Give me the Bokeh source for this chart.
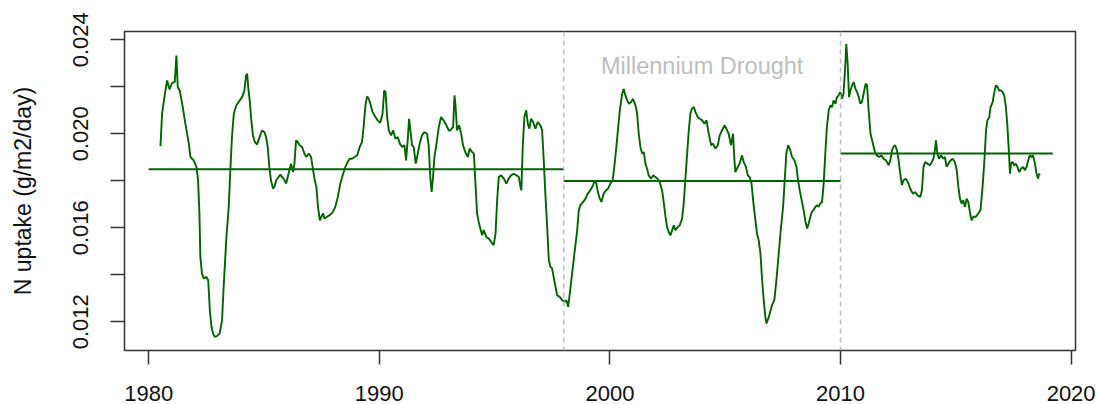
from bokeh.plotting import figure
from bokeh.models import Range1d, FixedTicker, PrintfTickFormatter, Span, Label
from bokeh.embed import file_html
from bokeh.resources import INLINE

# ---------------- data ----------------
YEAR = [
    1980.51, 1980.58, 1980.65, 1980.72, 1980.80, 1980.90, 1981.01, 1981.13, 1981.20, 1981.26,
    1981.35, 1981.45, 1981.59, 1981.74, 1981.81, 1981.95, 1982.07, 1982.14, 1982.20, 1982.24,
    1982.31, 1982.39, 1982.50, 1982.58, 1982.65, 1982.72, 1982.79, 1982.86, 1982.96, 1983.08,
    1983.18, 1983.25, 1983.37, 1983.47, 1983.54, 1983.61, 1983.69, 1983.80, 1983.95, 1984.05,
    1984.15, 1984.22, 1984.27, 1984.32, 1984.38, 1984.45, 1984.52, 1984.60, 1984.70, 1984.81,
    1984.91, 1985.02, 1985.09, 1985.16, 1985.23, 1985.30, 1985.39, 1985.45, 1985.53, 1985.63,
    1985.71, 1985.78, 1985.85, 1985.96, 1986.03, 1986.10, 1986.17, 1986.26, 1986.32, 1986.39,
    1986.46, 1986.55, 1986.65, 1986.75, 1986.84, 1986.94, 1987.04, 1987.13, 1987.20, 1987.27,
    1987.34, 1987.42, 1987.49, 1987.56, 1987.63, 1987.73, 1987.85, 1987.99, 1988.09, 1988.20,
    1988.31, 1988.43, 1988.53, 1988.63, 1988.72, 1988.82, 1988.93, 1989.04, 1989.15, 1989.25,
    1989.32, 1989.40, 1989.47, 1989.54, 1989.61, 1989.71, 1989.83, 1989.93, 1990.04, 1990.14,
    1990.21, 1990.27, 1990.34, 1990.41, 1990.51, 1990.60, 1990.70, 1990.80, 1990.89, 1990.99,
    1991.09, 1991.16, 1991.23, 1991.29, 1991.35, 1991.42, 1991.49, 1991.58, 1991.67, 1991.75,
    1991.85, 1991.95, 1992.07, 1992.14, 1992.21, 1992.27, 1992.33, 1992.39, 1992.48, 1992.58,
    1992.68, 1992.79, 1992.91, 1993.01,
    1993.08, 1993.20, 1993.26, 1993.31, 1993.37, 1993.46, 1993.55, 1993.63, 1993.73, 1993.84,
    1993.92, 1994.02, 1994.10, 1994.17, 1994.24, 1994.31, 1994.38, 1994.46, 1994.53, 1994.64,
    1994.75, 1994.85, 1994.96, 1995.04, 1995.11, 1995.18, 1995.28, 1995.40, 1995.51, 1995.61,
    1995.71, 1995.83, 1995.95, 1996.05, 1996.12, 1996.16, 1996.22, 1996.29, 1996.37, 1996.44,
    1996.51, 1996.58, 1996.67, 1996.77, 1996.87, 1996.99, 1997.06, 1997.13, 1997.20, 1997.28,
    1997.35, 1997.42, 1997.49, 1997.56, 1997.64, 1997.71, 1997.82, 1997.93, 1998.03, 1998.11,
    1998.19, 1998.26, 1998.36, 1998.46, 1998.58, 1998.65, 1998.72, 1998.84, 1998.94, 1999.04,
    1999.15, 1999.27, 1999.34, 1999.41, 1999.48, 1999.56, 1999.63, 1999.73, 1999.83, 1999.92,
    2000.02, 2000.12, 2000.19, 2000.28, 2000.36, 2000.43, 2000.53, 2000.60, 2000.67, 2000.75,
    2000.82, 2000.92, 2001.00, 2001.11, 2001.18, 2001.25, 2001.32, 2001.40, 2001.47, 2001.54,
    2001.61, 2001.68, 2001.79, 2001.87, 2001.97, 2002.07, 2002.16, 2002.26, 2002.33, 2002.41,
    2002.48, 2002.55, 2002.62, 2002.70, 2002.77, 2002.84, 2002.94, 2003.03, 2003.13, 2003.20,
    2003.27, 2003.35, 2003.42, 2003.49, 2003.56, 2003.64, 2003.71, 2003.81, 2003.90, 2004.00,
    2004.10, 2004.19, 2004.26, 2004.33, 2004.39, 2004.47, 2004.58, 2004.68, 2004.76, 2004.86,
    2004.97, 2005.05, 2005.15, 2005.25, 2005.34, 2005.40, 2005.44, 2005.51, 2005.62, 2005.73,
    2005.80, 2005.90, 2005.98, 2006.06, 2006.14, 2006.21, 2006.31, 2006.38, 2006.45, 2006.53,
    2006.60, 2006.67, 2006.74, 2006.79,
    2006.89, 2007.03, 2007.13, 2007.22, 2007.32, 2007.42, 2007.51, 2007.58, 2007.65, 2007.73,
    2007.80, 2007.90, 2008.00, 2008.09, 2008.16, 2008.23, 2008.33, 2008.40, 2008.47, 2008.55,
    2008.62, 2008.69, 2008.76, 2008.83, 2008.91, 2008.98, 2009.05, 2009.12, 2009.20, 2009.27,
    2009.34, 2009.41, 2009.49, 2009.56, 2009.63, 2009.70, 2009.78, 2009.85, 2009.92, 2009.99,
    2010.06, 2010.13, 2010.21, 2010.25, 2010.31, 2010.37, 2010.43, 2010.50, 2010.57, 2010.65,
    2010.72, 2010.79, 2010.86, 2010.93, 2011.00, 2011.09, 2011.15, 2011.22, 2011.30, 2011.37,
    2011.44, 2011.51, 2011.58, 2011.68, 2011.77, 2011.87, 2011.97, 2012.09, 2012.16, 2012.23,
    2012.30, 2012.37, 2012.45, 2012.52, 2012.59, 2012.66, 2012.73, 2012.83, 2012.92, 2013.02,
    2013.14, 2013.24, 2013.34, 2013.46, 2013.53, 2013.60, 2013.67, 2013.77, 2013.88, 2013.96,
    2014.03, 2014.10, 2014.14, 2014.20, 2014.27, 2014.36, 2014.46, 2014.53, 2014.60, 2014.68,
    2014.78, 2014.86, 2014.96, 2015.04, 2015.11, 2015.18, 2015.25, 2015.32, 2015.40, 2015.47,
    2015.54, 2015.61, 2015.68, 2015.76, 2015.87, 2015.97, 2016.07, 2016.16, 2016.24, 2016.31,
    2016.37, 2016.45, 2016.51, 2016.60, 2016.67, 2016.74, 2016.81, 2016.88, 2016.96, 2017.03,
    2017.10, 2017.17, 2017.23, 2017.29, 2017.35, 2017.39, 2017.46, 2017.53, 2017.60, 2017.67,
    2017.75, 2017.83, 2017.92, 2017.99, 2018.07, 2018.14, 2018.21, 2018.28, 2018.35, 2018.43,
    2018.50, 2018.57, 2018.61, 2018.64,
]

N_UPTAKE = [
    0.01947, 0.02085, 0.02135, 0.02180, 0.02227, 0.02189, 0.02216, 0.02220, 0.02333, 0.02199,
    0.02182, 0.02128, 0.02043, 0.01958, 0.01901, 0.01887, 0.01859, 0.01802, 0.01660, 0.01476,
    0.01405, 0.01384, 0.01391, 0.01377, 0.01250, 0.01179, 0.01151, 0.01136, 0.01139, 0.01151,
    0.01207, 0.01349, 0.01561, 0.01689, 0.01845, 0.01986, 0.02085, 0.02121, 0.02142, 0.02156,
    0.02184, 0.02248, 0.02255, 0.02192, 0.02142, 0.02057, 0.01993, 0.01965, 0.01955, 0.01986,
    0.02014, 0.02007, 0.01986, 0.01944, 0.01859, 0.01802, 0.01767, 0.01774, 0.01802, 0.01816,
    0.01827, 0.01816, 0.01809, 0.01788, 0.01816, 0.01845, 0.01873, 0.01837, 0.01873, 0.01972,
    0.01965, 0.01951, 0.01944, 0.01916, 0.01901, 0.01916, 0.01901, 0.01845, 0.01802, 0.01774,
    0.01689, 0.01632, 0.01647, 0.01661, 0.01639, 0.01647, 0.01654, 0.01668, 0.01689, 0.01731,
    0.01788, 0.01830, 0.01859, 0.01880, 0.01894, 0.01894, 0.01901, 0.01908, 0.01944, 0.01965,
    0.02029, 0.02121, 0.02159, 0.02149, 0.02128, 0.02092, 0.02071, 0.02057, 0.02046, 0.02085,
    0.02184, 0.02177, 0.02071, 0.02014, 0.01993, 0.02014, 0.01979, 0.01986, 0.01958, 0.01944,
    0.01951, 0.01887, 0.01972, 0.02064, 0.02014, 0.01951, 0.01944, 0.01873, 0.01916, 0.01958,
    0.01993, 0.02007, 0.02000, 0.01951, 0.01816, 0.01753, 0.01816, 0.01901, 0.01958, 0.02029,
    0.02071, 0.02057, 0.02036, 0.02014,
    0.02014, 0.02029, 0.02163, 0.02114, 0.02014, 0.02036, 0.02000, 0.01951, 0.01922, 0.01901,
    0.01937, 0.01922, 0.01916, 0.01788, 0.01660, 0.01625, 0.01597, 0.01568, 0.01590, 0.01561,
    0.01554, 0.01540, 0.01526, 0.01575, 0.01717, 0.01816, 0.01823, 0.01809, 0.01788, 0.01809,
    0.01823, 0.01830, 0.01823, 0.01816, 0.01774, 0.01760, 0.01944, 0.02071, 0.02100, 0.02043,
    0.02022, 0.02064, 0.02050, 0.02022, 0.02050, 0.02036, 0.02014, 0.01887, 0.01745, 0.01603,
    0.01462, 0.01434, 0.01427, 0.01391, 0.01349, 0.01313, 0.01306, 0.01292, 0.01285, 0.01292,
    0.01264, 0.01320, 0.01405, 0.01490, 0.01589, 0.01674, 0.01696, 0.01710, 0.01724, 0.01745,
    0.01760, 0.01781, 0.01802, 0.01788, 0.01752, 0.01724, 0.01710, 0.01745, 0.01760, 0.01767,
    0.01788, 0.01802, 0.01859, 0.01944, 0.02029, 0.02100, 0.02170, 0.02191, 0.02163, 0.02142,
    0.02128, 0.02135, 0.02149, 0.02121, 0.02085, 0.02000, 0.01944, 0.01916, 0.01922, 0.01873,
    0.01852, 0.01823, 0.01809, 0.01823, 0.01816, 0.01809, 0.01795, 0.01760, 0.01710, 0.01647,
    0.01603, 0.01582, 0.01568, 0.01590, 0.01611, 0.01590, 0.01603, 0.01611, 0.01639, 0.01703,
    0.01802, 0.01916, 0.02014, 0.02085, 0.02107, 0.02114, 0.02092, 0.02071, 0.02064, 0.02057,
    0.02043, 0.02057, 0.02014, 0.01979, 0.01951, 0.01958, 0.01937, 0.01951, 0.01993, 0.02014,
    0.02036, 0.02022, 0.02000, 0.01951, 0.02000, 0.01887, 0.01837, 0.01852, 0.01873, 0.01908,
    0.01880, 0.01859, 0.01823, 0.01816, 0.01788, 0.01717, 0.01632, 0.01575, 0.01547, 0.01490,
    0.01377, 0.01292, 0.01221, 0.01193,
    0.01221, 0.01271, 0.01292, 0.01377, 0.01490, 0.01603, 0.01689, 0.01802, 0.01916, 0.01951,
    0.01937, 0.01901, 0.01887, 0.01859, 0.01802, 0.01760, 0.01710, 0.01675, 0.01632, 0.01597,
    0.01618, 0.01646, 0.01668, 0.01675, 0.01689, 0.01696, 0.01689, 0.01703, 0.01710, 0.01788,
    0.01916, 0.02029, 0.02100, 0.02121, 0.02114, 0.02142, 0.02128, 0.02156, 0.02163, 0.02177,
    0.02149, 0.02170, 0.02298, 0.02383, 0.02298, 0.02156, 0.02184, 0.02205, 0.02220, 0.02191,
    0.02177, 0.02156, 0.02128, 0.02135, 0.02170, 0.02213, 0.02206, 0.02100, 0.02000, 0.01972,
    0.01944, 0.01916, 0.01908, 0.01901, 0.01908, 0.01894, 0.01887, 0.01866, 0.01887, 0.01929,
    0.01944, 0.01951, 0.01929, 0.01887, 0.01830, 0.01781, 0.01802, 0.01809, 0.01795, 0.01767,
    0.01745, 0.01752, 0.01738, 0.01731, 0.01760, 0.01859, 0.01880, 0.01873, 0.01866, 0.01880,
    0.01894, 0.01937, 0.01972, 0.01916, 0.01894, 0.01908, 0.01894, 0.01901, 0.01859, 0.01873,
    0.01887, 0.01894, 0.01880, 0.01845, 0.01774, 0.01724, 0.01703, 0.01717, 0.01689, 0.01724,
    0.01710, 0.01668, 0.01632, 0.01647, 0.01647, 0.01661, 0.01675, 0.01774, 0.01887, 0.02014,
    0.02057, 0.02071, 0.02114, 0.02135, 0.02177, 0.02206, 0.02199, 0.02184, 0.02184, 0.02177,
    0.02163, 0.02114, 0.02043, 0.01944, 0.01830, 0.01873, 0.01880, 0.01866, 0.01873, 0.01859,
    0.01837, 0.01852, 0.01859, 0.01845, 0.01859, 0.01887, 0.01908, 0.01901, 0.01908, 0.01873,
    0.01830, 0.01809, 0.01830, 0.01823,
]
assert len(YEAR) == len(N_UPTAKE)

# period means (horizontal lines)
PERIOD_START = [1980.0, 1998.0, 2010.0]
PERIOD_END = [1998.0, 2010.0, 2019.2]
PERIOD_MEAN = [0.01849, 0.01799, 0.01916]

# drought boundaries and label
BREAK_YEARS = [1998, 2010]
DROUGHT_LABEL = "Millennium Drought"
DROUGHT_LABEL_YEAR = 2004.0
DROUGHT_LABEL_VALUE = 0.02290

X_TICKS = [1980, 1990, 2000, 2010, 2020]
X_TICK_LABELS = ["1980", "1990", "2000", "2010", "2020"]
Y_TICKS = [0.012, 0.016, 0.020, 0.024]
Y_MINOR_TICKS = [0.014, 0.018, 0.022]

X_MIN, X_MAX = 1978.95, 2020.19
Y_MIN, Y_MAX = 0.01078, 0.02435

# ---------------- styling ----------------
GREEN = "#006400"
AXIS_COL = "#333333"
TEXT_COL = "#111111"
FONT = "Liberation Sans"

p = figure(width=1097, height=404,
           x_range=Range1d(X_MIN, X_MAX), y_range=Range1d(Y_MIN, Y_MAX),
           output_backend="svg", toolbar_location=None,
           min_border_left=124, min_border_right=22, min_border_top=31, min_border_bottom=54)

p.background_fill_color = "white"
p.border_fill_color = "white"
p.xgrid.visible = False
p.ygrid.visible = False
p.outline_line_color = AXIS_COL
p.outline_line_width = 1.5

p.line(YEAR, N_UPTAKE, line_color=GREEN, line_width=1.9)
p.segment(x0=PERIOD_START, y0=PERIOD_MEAN, x1=PERIOD_END, y1=PERIOD_MEAN,
          line_color=GREEN, line_width=1.8)

for yr in BREAK_YEARS:
    p.add_layout(Span(location=yr, dimension="height", line_color="#BEBEBE",
                      line_width=1.5, line_dash="5 4"))

p.add_layout(Label(x=DROUGHT_LABEL_YEAR, y=DROUGHT_LABEL_VALUE, text=DROUGHT_LABEL,
                   text_align="center", text_baseline="alphabetic",
                   text_color="#BEBEBE", text_font=FONT, text_font_size="23.5px"))

# x axis
xa = p.xaxis[0]
xa.ticker = FixedTicker(ticks=X_TICKS)
xa.major_label_overrides = dict(zip(X_TICKS, X_TICK_LABELS))
xa.axis_line_color = None
xa.major_tick_out = 14
xa.major_tick_in = 0
xa.major_tick_line_color = AXIS_COL
xa.major_tick_line_width = 1.5
xa.minor_tick_line_color = None
xa.major_label_standoff = 21
xa.major_label_text_font = FONT
xa.major_label_text_font_size = "22px"
xa.major_label_text_color = TEXT_COL

# y axis
ya = p.yaxis[0]
ya.ticker = FixedTicker(ticks=Y_TICKS, minor_ticks=Y_MINOR_TICKS)
ya.formatter = PrintfTickFormatter(format="%.3f")
ya.axis_line_color = None
ya.major_tick_out = 14
ya.major_tick_in = 0
ya.minor_tick_out = 14
ya.minor_tick_in = 0
ya.major_tick_line_color = AXIS_COL
ya.minor_tick_line_color = AXIS_COL
ya.major_tick_line_width = 1.5
ya.minor_tick_line_width = 1.5
ya.major_label_orientation = "vertical"
ya.major_label_standoff = 22
ya.major_label_text_font = FONT
ya.major_label_text_font_size = "22px"
ya.major_label_text_color = TEXT_COL
ya.axis_label = "N uptake (g/m2/day)"
ya.axis_label_standoff = 35
ya.axis_label_text_font = FONT
ya.axis_label_text_font_size = "23px"
ya.axis_label_text_font_style = "normal"
ya.axis_label_text_color = TEXT_COL

open("out.html", "w").write(file_html(p, INLINE))
